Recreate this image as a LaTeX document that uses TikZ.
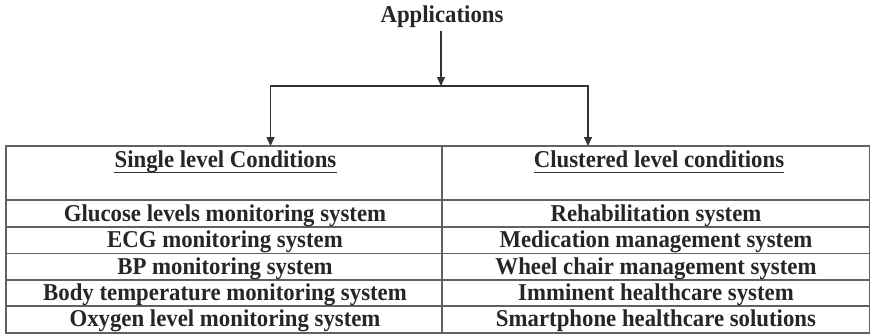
\documentclass[tikz,border=0pt]{standalone}
\usepackage{fontspec}
\setmainfont{Liberation Serif}
\usetikzlibrary{arrows.meta}
\newcommand\tallt[1]{\scalebox{1}[1.06]{#1}}
\begin{document}
\begin{tikzpicture}[x=1pt,y=1pt,
  txt/.style={font=\fontsize{22.8}{26}\selectfont\bfseries, text=black!85, inner sep=0pt, anchor=base},
  grid/.style={draw=black!62, line width=1.5pt},
  conn/.style={draw=black!80, line width=1.5pt},
  uline/.style={draw=black!80, line width=1.6pt},
  arr/.style={conn, -{Triangle[length=9pt,width=8pt]}}]
\useasboundingbox (0,-335) rectangle (871,0);
% title
\node[txt] (app) at (442,-22) {\tallt{Applications}};
% table
\draw[grid] (6,-146) rectangle (869.5,-333);
\draw[grid] (6,-200) -- (869.5,-200);
\draw[grid] (6,-227) -- (869.5,-227);
\draw[grid] (6,-253.5) -- (869.5,-253.5);
\draw[grid] (6,-280) -- (869.5,-280);
\draw[grid] (6,-306) -- (869.5,-306);
\draw[grid] (442,-146) -- (442,-333);
% headers
\node[txt] (h1) at (225.5,-167) {\tallt{Single level Conditions}};
\node[txt] (h2) at (659,-167) {\tallt{Clustered level conditions}};
\draw[uline] ([yshift=-5.5pt]h1.base west) -- ([yshift=-5.5pt]h1.base east);
\draw[uline] ([yshift=-5.5pt]h2.base west) -- ([yshift=-5.5pt]h2.base east);
% left column
\node[txt] (l1) at (225,-221) {\tallt{Glucose levels monitoring system}};
\node[txt] (l2) at (225,-247.6) {\tallt{ECG monitoring system}};
\node[txt] (l3) at (225,-274) {\tallt{BP monitoring system}};
\node[txt] (l4) at (225,-300.3) {\tallt{Body temperature monitoring system}};
\node[txt] (l5) at (225,-326.6) {\tallt{Oxygen level monitoring system}};
% right column
\node[txt] (r1) at (656,-221) {\tallt{Rehabilitation system}};
\node[txt] (r2) at (656,-247.6) {\tallt{Medication management system}};
\node[txt] (r3) at (656,-274) {\tallt{Wheel chair management system}};
\node[txt] (r4) at (656,-300.3) {\tallt{Imminent healthcare system}};
\node[txt] (r5) at (656,-326.6) {\tallt{Smartphone healthcare solutions}};
% connectors
\coordinate (split) at (441,-86);
\coordinate (tl) at (270.5,-146);
\coordinate (tr) at (588,-146);
\draw[arr] (441,-31) -- (split);
\draw[arr] (split) -| (tl);
\draw[arr] (split) -| (tr);
\end{tikzpicture}
\end{document}
